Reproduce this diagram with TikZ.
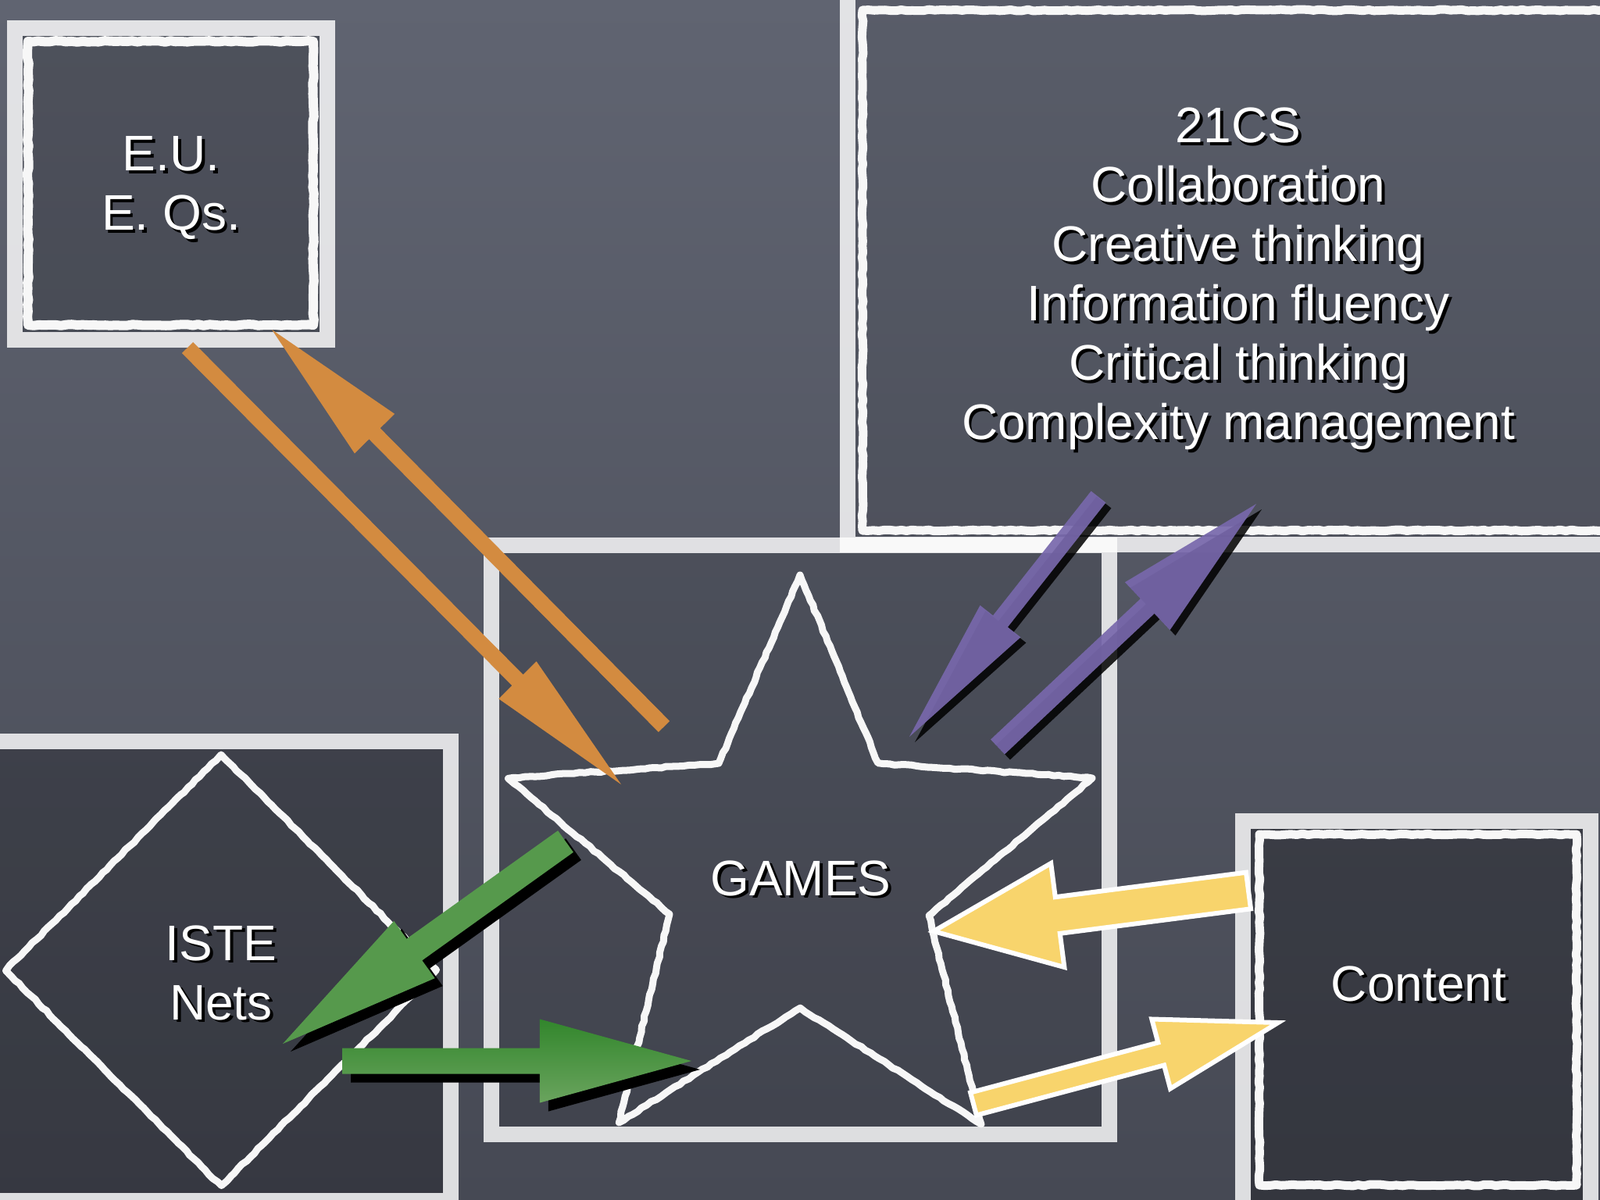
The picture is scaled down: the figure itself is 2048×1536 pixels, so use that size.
\documentclass[tikz,border=0pt]{standalone}
\usepackage{fontspec}
\usepackage{tikz}
\usetikzlibrary{calc,decorations.pathmorphing}
\newfontfamily\slidefont{Liberation Sans}

\definecolor{board}{RGB}{96,100,113}
\definecolor{boardlow}{RGB}{70,73,84}
\definecolor{orangearr}{RGB}{211,139,64}
\definecolor{purplearr}{RGB}{120,104,172}
\definecolor{greenarr}{RGB}{86,153,76}
\definecolor{greentop}{RGB}{50,134,44}
\definecolor{greenlow}{RGB}{106,164,94}
\definecolor{yellowarr}{RGB}{248,212,108}

% white text with a black drop shadow
\newcommand{\chalktxt}[1]{\leavevmode\rlap{\raisebox{-0.06em}[0pt][0pt]{\kern0.06em\color{black}#1}}#1}
% block arrow: style, from, to, half shaft, half head, head length
\newcommand{\blockarrow}[6]{%
  \coordinate (ba-h) at ($(#3)!#6!(#2)$);
  \path[#1] ($(#2)!#4!90:(#3)$) -- ($(ba-h)!#4!90:(#3)$) -- ($(ba-h)!#5!90:(#3)$) -- (#3)
    -- ($(ba-h)!#5!-90:(#3)$) -- ($(ba-h)!#4!-90:(#3)$) -- ($(#2)!#4!-90:(#3)$) -- cycle;
}

\tikzset{
  boardframe/.style={draw=white,draw opacity=.82,line width=0.2cm},
  boxin/.style={fill=black,fill opacity=#1},
  chalk/.style={draw=white!94!gray,line width=#1,line join=round,
    decorate,decoration={random steps,segment length=2pt,amplitude=.25pt}},
  slidetext/.style={text=white,align=center,inner sep=0pt,
    font=\slidefont\fontsize{18.2}{21.6}\selectfont},
  shadowed/.style={fill=black,transform canvas={shift={(#1,-#1)}}},
}

\begin{document}
\begin{tikzpicture}[x=0.01cm,y=-0.01cm]
  \useasboundingbox (0,0) rectangle (2048,1536);
  \clip (0,0) rectangle (2048,1536);
  \shade[top color=board,bottom color=boardlow] (0,0) rectangle (2048,1536);

  % box insides
  \fill[boxin=.18] (29,46) rectangle (409,425);
  \fill[boxin=.07] (1095,-5) rectangle (2060,687);
  \fill[boxin=.09] (639,708) rectangle (1410,1442);
  \fill[boxin=.22] (-5,959) rectangle (567,1527);
  \fill[boxin=.25] (1601,1061) rectangle (2026,1545);

  % frames
  \draw[boardframe] (19,36) rectangle (419,435);
  \draw[boardframe] (1085,-10) rectangle (2070,697);
  \draw[boardframe] (629,698) rectangle (1420,1452);
  \draw[boardframe] (-30,949) rectangle (577,1537);
  \draw[boardframe] (1591,1051) rectangle (2036,1570);

  % chalk lines
  \draw[chalk=0.12cm] (36,53) rectangle (401,416);
  \draw[chalk=0.11cm] (1104,13) rectangle (2075,679);
  \draw[chalk=0.11cm] (1612,1068) rectangle (2018,1517);
  \draw[chalk=0.09cm] (283,966) -- (559,1242) -- (283,1518) -- (7,1242) -- cycle;
  \draw[chalk=0.09cm] (1024,736) -- (1124,977) -- (1398,996) -- (1189,1172) -- (1256,1439)
    -- (1024,1290) -- (792,1437) -- (857,1170) -- (650,996) -- (920,977) -- cycle;

  % texts
  \node[slidetext] (eu) at (219,241) {\chalktxt{E.U.}\\\chalktxt{E. Qs.}};
  \node[slidetext] (cs) at (1585,357) {\chalktxt{21CS}\\\chalktxt{Collaboration}\\
    \chalktxt{Creative thinking}\\\chalktxt{Information fluency}\\
    \chalktxt{Critical thinking}\\\chalktxt{Complexity management}};
  \node[slidetext] (games) at (1025,1124) {\chalktxt{GAMES}};
  \node[slidetext] (iste) at (283,1245) {\chalktxt{ISTE}\\\chalktxt{Nets}};
  \node[slidetext] (content) at (1816,1259) {\chalktxt{Content}};

  % arrow ends
  \coordinate (eu-out) at (240,445);
  \coordinate (games-in1) at (795,1004);
  \coordinate (games-out1) at (850,930);
  \coordinate (eu-in) at (348,422);
  \coordinate (cs-out) at (1406,636);
  \coordinate (games-in2) at (1164,943);
  \coordinate (games-out2) at (1277,956);
  \coordinate (cs-in) at (1608,645);
  \coordinate (games-out3) at (724,1077);
  \coordinate (iste-in) at (362,1336);
  \coordinate (iste-out) at (438,1358);
  \coordinate (games-in3) at (885,1358);
  \coordinate (content-out) at (1598,1140);
  \coordinate (games-in4) at (1195,1192);
  \coordinate (games-out4) at (1246,1413);
  \coordinate (content-in) at (1636,1309);

  % E.U. <-> games
  \blockarrow{fill=orangearr}{eu-out}{games-in1}{0.1cm}{0.34cm}{1.88cm}
  \blockarrow{fill=orangearr}{games-out1}{eu-in}{0.1cm}{0.36cm}{1.87cm}
  % 21CS <-> games
  \blockarrow{shadowed=0.07cm,fill opacity=.85}{cs-out}{games-in2}{0.12cm}{0.33cm}{1.88cm}
  \blockarrow{fill=purplearr,fill opacity=.92}{cs-out}{games-in2}{0.12cm}{0.33cm}{1.88cm}
  \blockarrow{shadowed=0.07cm,fill opacity=.85}{games-out2}{cs-in}{0.13cm}{0.42cm}{1.91cm}
  \blockarrow{fill=purplearr,fill opacity=.92}{games-out2}{cs-in}{0.13cm}{0.42cm}{1.91cm}
  % games <-> ISTE
  \blockarrow{shadowed=0.1cm}{games-out3}{iste-in}{0.17cm}{0.45cm}{2.07cm}
  \blockarrow{fill=greenarr}{games-out3}{iste-in}{0.17cm}{0.45cm}{2.07cm}
  \blockarrow{shadowed=0.11cm}{iste-out}{games-in3}{0.165cm}{0.535cm}{1.94cm}
  \blockarrow{top color=greentop,bottom color=greenlow}{iste-out}{games-in3}{0.165cm}{0.535cm}{1.94cm}
  % content <-> games
  \blockarrow{fill=yellowarr,draw=white,line width=0.06cm}{content-out}{games-in4}{0.235cm}{0.67cm}{1.6cm}
  \blockarrow{fill=yellowarr,draw=white,line width=0.06cm}{games-out4}{content-in}{0.15cm}{0.46cm}{1.55cm}
\end{tikzpicture}
\end{document}
